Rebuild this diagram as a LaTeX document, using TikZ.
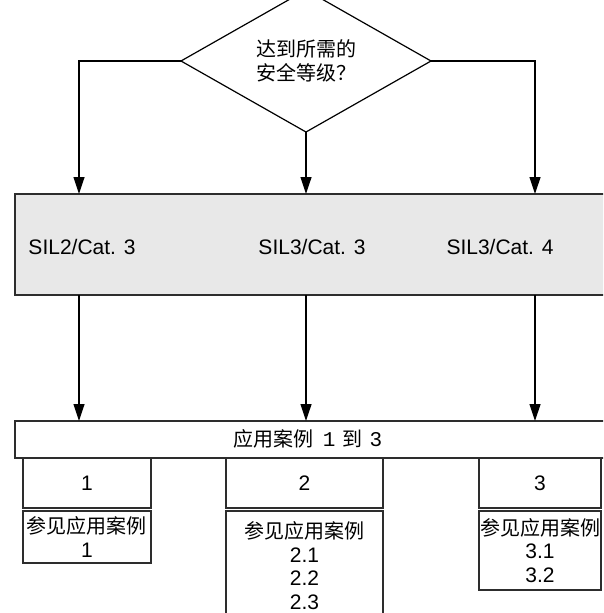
\documentclass[tikz,border=0pt]{standalone}
\usepackage{fontspec}
\setmainfont{Liberation Sans}
\setmonofont{Liberation Mono}
\newfontfamily\cjk{Noto Sans CJK SC}
\usetikzlibrary{arrows.meta,shapes.geometric,positioning}
\definecolor{boxgrey}{RGB}{232,232,232}
\definecolor{linegrey}{RGB}{45,45,45}
\newcommand{\zhtext}[1]{{\cjk\fontsize{20}{23.5}\selectfont #1}}

\begin{document}
\begin{tikzpicture}[x=1pt,y=-1pt,
  arr/.style={-{Triangle[length=17pt,width=11pt]}, line width=1.2pt, draw=black},
  frame/.style={draw=linegrey, line width=1.5pt, rectangle, inner sep=0pt, outer sep=0pt},
  lattext/.style={font=\fontsize{21}{23.5}\selectfont, align=center}]
  \useasboundingbox (0,0) rectangle (603,613);
  \clip (0,0) rectangle (603,613);
  % question
  \node[diamond, draw=black, line width=1.2pt, inner sep=0pt, outer sep=0pt,
        minimum width=250pt, minimum height=108pt, align=center,
        font=\cjk\fontsize{20}{23.5}\selectfont] (q) at (306,61) {达到所需的\\安全等级？};
  % safety levels
  \node[frame, fill=boxgrey, minimum width=660pt, minimum height=101pt, anchor=north west] (levels) at (15,194) {};
  \node[lattext] (sil2) at (82,247) {SIL2/Cat. 3};
  \node[lattext] (sil3) at (312,247) {SIL3/Cat. 3};
  \node[lattext] (sil4) at (500,247) {SIL3/Cat. 4};
  \coordinate (c1) at (79,0);
  \coordinate (c2) at (306,0);
  \coordinate (c3) at (535,0);
  \draw[arr] (q.west) -| (c1 |- levels.north);
  \draw[arr] (q.south) -- (c2 |- levels.north);
  \draw[arr] (q.east) -| (c3 |- levels.north);
  % application cases
  \node[frame, minimum width=660pt, minimum height=37pt, anchor=north west] (cases) at (15,421) {};
  \node[lattext] (title) at (308,439)
    {\zhtext{应用案例}\hspace{9pt}{\ttfamily 1}\hspace{7pt}\zhtext{到}\hspace{7pt}{\ttfamily 3}};
  \foreach \c in {c1,c2,c3}{
    \draw[arr] (\c |- levels.south) -- (\c |- cases.north);
  }
  \foreach \n/\x/\w in {1/23/128, 2/226/157, 3/479/122}{
    \node[frame, lattext, minimum width=\w pt, minimum height=50pt, anchor=north west] (num\n) at (\x,458) {\n};
  }
  \node[frame, lattext, minimum width=128pt, minimum height=52pt, anchor=north west] (see1) at (23,511)
    {\zhtext{参见应用案例}\\1};
  \node[frame, lattext, minimum width=157pt, minimum height=109pt, anchor=north west] (see2) at (226,511)
    {\zhtext{参见应用案例}\\2.1\\2.2\\2.3};
  \node[frame, lattext, minimum width=122pt, minimum height=79pt, anchor=north west] (see3) at (479,511)
    {\zhtext{参见应用案例}\\3.1\\3.2};
\end{tikzpicture}
\end{document}
